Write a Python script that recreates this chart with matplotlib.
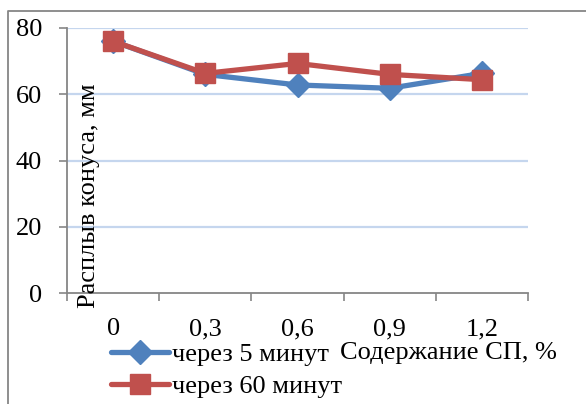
import numpy as np
import matplotlib.pyplot as plt
from matplotlib.lines import Line2D

# Data
categories = ['0', '0,3', '0,6', '0,9', '1,2']
flow_5min = [76, 66, 62.8, 61.8, 66.3]
flow_60min = [76, 66.3, 69.3, 66, 64.4]
series_names = ['через 5 минут', 'через 60 минут']
y_ticks = [0, 20, 40, 60, 80]

blue = '#4F81BD'
red = '#C0504D'
grid_col = '#C5D6EE'
axis_col = '#868686'
fs = 19

plt.rcParams['font.family'] = ['Liberation Serif', 'DejaVu Serif']

W, H = 586, 404
fig = plt.figure(figsize=(W / 100, H / 100), dpi=100)
ax = fig.add_axes([67 / W, 1 - 293 / H, (528 - 67) / W, (293 - 28) / H])

x = np.arange(len(categories))
l1, = ax.plot(x, flow_5min, color=blue, lw=3.8, marker='D', ms=12.5,
              solid_capstyle='round', zorder=3)
l2, = ax.plot(x, flow_60min, color=red, lw=3.8, marker='s', ms=14,
              solid_capstyle='round', zorder=4)

ax.set_xlim(-0.5, len(categories) - 0.5)
ax.set_ylim(0, 80)
ax.set_yticks(y_ticks)
ax.set_yticklabels([str(v) for v in y_ticks], fontsize=fs)
ax.tick_params(axis='y', length=6, width=1.2, color=axis_col, pad=12)

# tick marks between categories, labels at centres
ax.set_xticks(np.arange(len(categories) + 1) - 0.5)
ax.set_xticklabels([])
ax.tick_params(axis='x', which='major', length=6, width=1.2, color=axis_col)
ax.set_xticks(x, minor=True)
ax.set_xticklabels(categories, minor=True, fontsize=fs)
ax.tick_params(axis='x', which='minor', length=0, pad=18)

for v in y_ticks[1:]:
    ax.axhline(v, color=grid_col, lw=1.6, zorder=1)

for s in ['top', 'right']:
    ax.spines[s].set_visible(False)
for s in ['left', 'bottom']:
    ax.spines[s].set_color(axis_col)
    ax.spines[s].set_linewidth(1.3)

# y label sits inside the plot area
fig.text(89 / W, 1 - 196 / H, 'Расплыв конуса, мм', rotation=90,
         ha='center', va='center', fontsize=fs)
fig.text(448 / W, 1 - 353 / H, 'Содержание СП, %', ha='center',
         va='center', fontsize=fs)

fig.legend([l1, l2], series_names, loc='upper left',
           bbox_to_anchor=(111 / W, 1 - 343 / H), frameon=False,
           fontsize=fs, handlelength=2.2, handletextpad=0.1,
           labelspacing=0.3, borderpad=0, borderaxespad=0)

# outer chart frame
fig.add_artist(Line2D([8 / W, 8 / W, 1], [0, 1 - 11 / H, 1 - 11 / H],
                      transform=fig.transFigure, color=axis_col, lw=1.3))

fig.savefig('out.png', dpi=100)
